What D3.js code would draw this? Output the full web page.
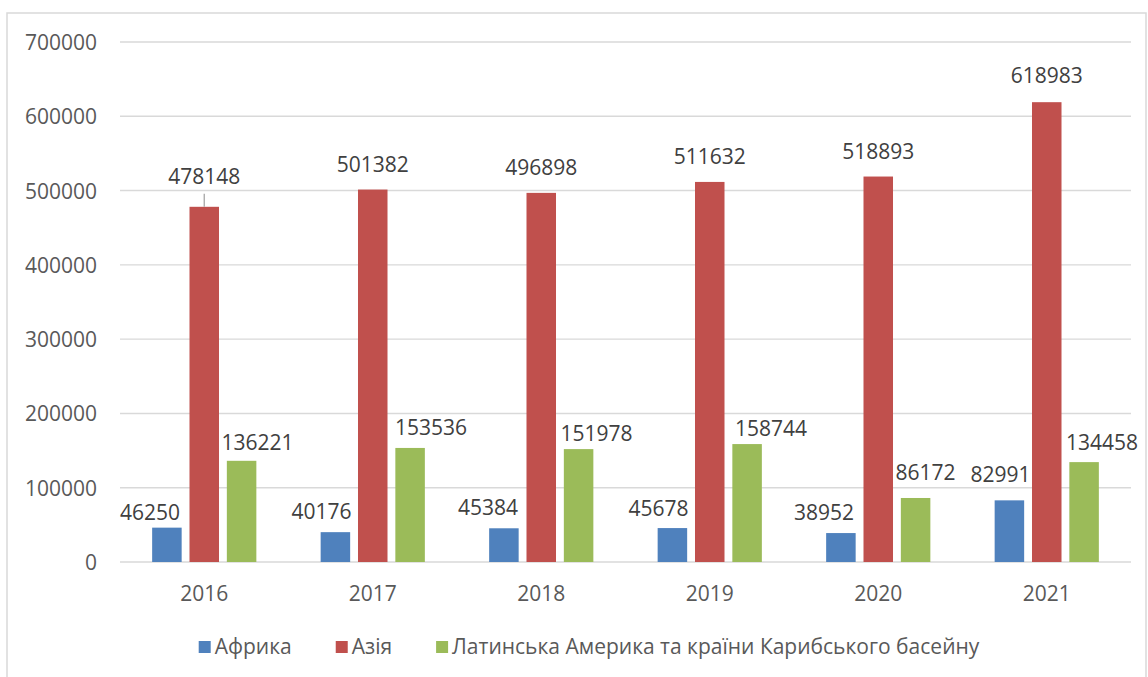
<!DOCTYPE html>
<html>
<head>
<meta charset="utf-8">
<script src="https://cdn.jsdelivr.net/npm/d3@7"></script>
<style>
  html, body { margin: 0; padding: 0; background: #fff; }
  svg { display: block; font-family: "Open Sans", "Noto Sans", sans-serif; }
</style>
</head>
<body>
<svg id="chart" width="1148" height="677"></svg>
<script>
// Data
const years = ["2016", "2017", "2018", "2019", "2020", "2021"];
const seriesNames = ["Африка", "Азія", "Латинська Америка та країни Карибського басейну"];
const africa = [46250, 40176, 45384, 45678, 38952, 82991];
const asia = [478148, 501382, 496898, 511632, 518893, 618983];
const latinAmerica = [136221, 153536, 151978, 158744, 86172, 134458];
const yTicks = [0, 100000, 200000, 300000, 400000, 500000, 600000, 700000];

// Styling
const colors = ["#4f81bd", "#c0504d", "#9bbb59"];
const textColor = "#595959";
const gridColor = "#d9d9d9";
const fontSize = 21;

// Per-label placement tweaks [dx, gap above bar], to keep labels from colliding
const labelTweaks = [
  [[-17, 8], [-14, 13], [-16, 13], [-14, 12], [-17, 13], [-9, 18]],
  [[0, 23], [0, 18], [0, 18], [0, 18], [0, 18], [0, 19]],
  [[16, 11], [21, 13], [18, 8], [24, 8], [10, 18], [18, 12]]
];
const leaderLines = [[1, 0]]; // [series, year index] labels drawn with a leader line

const values = [africa, asia, latinAmerica];

const svg = d3.select("#chart");

// Outer chart border
svg.append("rect")
  .attr("x", 7).attr("y", 13)
  .attr("width", 1139).attr("height", 700)
  .attr("fill", "none")
  .attr("stroke", gridColor)
  .attr("stroke-width", 1.5);

const plot = { left: 120, right: 1131, top: 42, bottom: 562 };

const x = d3.scaleBand().domain(years).range([plot.left, plot.right]).padding(0);
const xs = d3.scaleBand().domain(d3.range(3)).range([-52.1, 52.1]).paddingInner(0.21).paddingOuter(0);
const y = d3.scaleLinear().domain([0, 700000]).range([plot.bottom, plot.top]);

// Gridlines
svg.append("g")
  .selectAll("line")
  .data(yTicks)
  .join("line")
  .attr("x1", plot.left).attr("x2", plot.right)
  .attr("y1", d => y(d)).attr("y2", d => y(d))
  .attr("stroke", gridColor)
  .attr("stroke-width", 1.4);

// Y axis labels
const yAxis = d3.axisLeft(y).tickValues(yTicks).tickSize(0).tickPadding(0).tickFormat(d3.format("d"));
svg.append("g")
  .attr("transform", `translate(97,0)`)
  .call(yAxis)
  .call(g => g.select(".domain").remove())
  .call(g => g.selectAll("text")
    .attr("fill", textColor)
    .attr("font-size", fontSize)
    .attr("font-family", "'Open Sans', sans-serif")
    .attr("dy", "0.36em"));

// X axis labels
const xAxis = d3.axisBottom(x).tickSize(0).tickPadding(0);
svg.append("g")
  .attr("transform", `translate(0,${plot.bottom})`)
  .call(xAxis)
  .call(g => g.select(".domain").remove())
  .call(g => g.selectAll("text")
    .attr("fill", textColor)
    .attr("font-size", fontSize)
    .attr("font-family", "'Open Sans', sans-serif")
    .attr("dy", null)
    .attr("y", 39));

// Bars
const bars = [];
values.forEach((arr, s) => arr.forEach((v, i) => bars.push({ s, i, v, year: years[i] })));

svg.append("g")
  .selectAll("rect")
  .data(bars)
  .join("rect")
  .attr("x", d => x(d.year) + x.bandwidth() / 2 + xs(d.s))
  .attr("y", d => y(d.v))
  .attr("width", xs.bandwidth())
  .attr("height", d => y(0) - y(d.v))
  .attr("fill", d => colors[d.s]);

// Leader lines
svg.append("g")
  .selectAll("line")
  .data(leaderLines)
  .join("line")
  .attr("x1", ([s, i]) => x(years[i]) + x.bandwidth() / 2 + xs(s) + xs.bandwidth() / 2)
  .attr("x2", ([s, i]) => x(years[i]) + x.bandwidth() / 2 + xs(s) + xs.bandwidth() / 2)
  .attr("y1", ([s, i]) => y(values[s][i]) - labelTweaks[s][i][1] + 10)
  .attr("y2", ([s, i]) => y(values[s][i]))
  .attr("stroke", "#a6a6a6")
  .attr("stroke-width", 1.3);

// Value labels
svg.append("g")
  .selectAll("text")
  .data(bars)
  .join("text")
  .attr("x", d => x(d.year) + x.bandwidth() / 2 + xs(d.s) + xs.bandwidth() / 2 + labelTweaks[d.s][d.i][0])
  .attr("y", d => y(d.v) - labelTweaks[d.s][d.i][1])
  .attr("text-anchor", "middle")
  .attr("fill", "#404040")
  .attr("font-size", fontSize)
  .text(d => d.v);

// Legend
const legend = svg.append("g");
const items = legend.selectAll("g")
  .data(seriesNames)
  .join("g");
items.append("rect")
  .attr("width", 12).attr("height", 12)
  .attr("y", -12)
  .attr("fill", (d, i) => colors[i]);
items.append("text")
  .attr("x", 16)
  .attr("y", 0)
  .attr("dy", "0.05em")
  .attr("fill", textColor)
  .attr("font-size", fontSize)
  .text(d => d);

let cursor = 0;
const itemGap = 44;
items.each(function () {
  const w = 16 + this.querySelector("text").getComputedTextLength();
  d3.select(this).attr("data-w", w).attr("transform", `translate(${cursor},0)`);
  cursor += w + itemGap;
});
const totalW = cursor - itemGap;
legend.attr("transform", `translate(${589 - totalW / 2},653)`);
</script>
</body>
</html>
